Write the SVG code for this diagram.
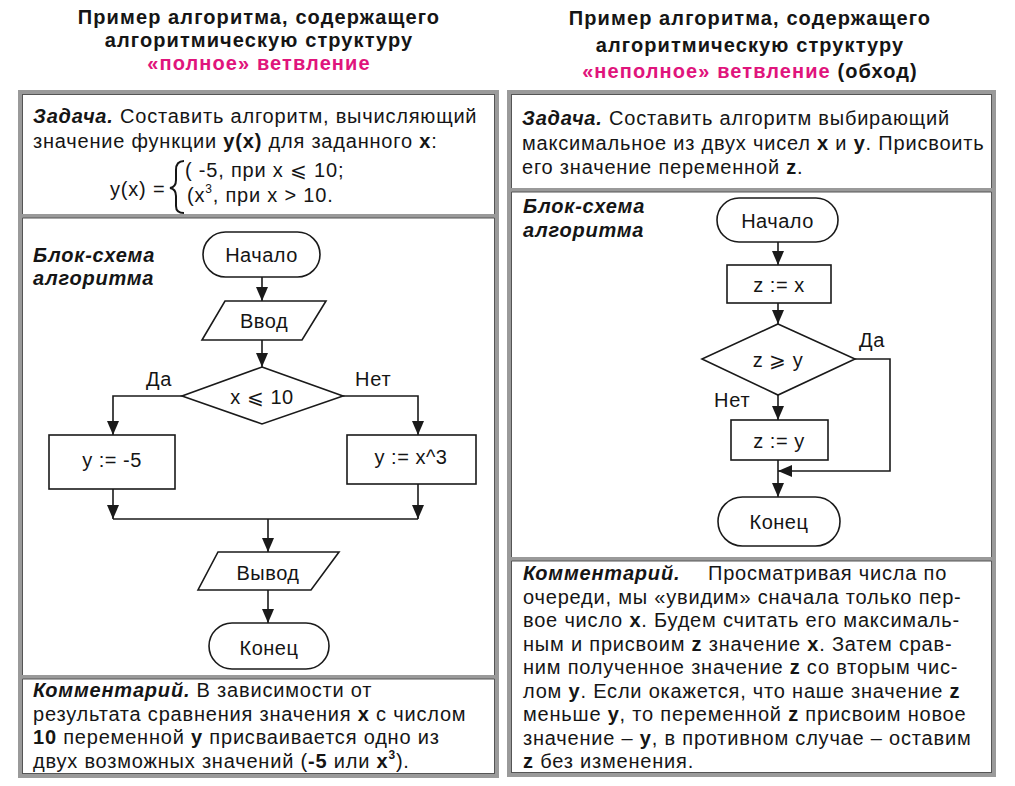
<svg xmlns="http://www.w3.org/2000/svg" width="1015" height="786" viewBox="0 0 1015 786">
<style>
text{font-family:"Liberation Sans",Arial,sans-serif;fill:#151515}
.t{font-size:20px;font-weight:bold;text-anchor:middle;letter-spacing:1.1px}
.pink{fill:#e0147c}
.b{font-size:20px;letter-spacing:0.8px}
.n{font-size:20px;text-anchor:middle;letter-spacing:0.5px}
.bi{font-weight:bold;font-style:italic}
.bo{font-weight:bold}
.frame{fill:none;stroke:#9a9a9a;stroke-width:4}
.fin{fill:none;stroke:#555;stroke-width:1}
.sh{fill:#fff;stroke:#1a1a1a;stroke-width:1.6}
.c{fill:none;stroke:#1a1a1a;stroke-width:1.6}
</style>
<defs>
<marker id="ar" viewBox="0 0 14 12" refX="14" refY="6" markerWidth="14" markerHeight="12" markerUnits="userSpaceOnUse" orient="auto">
<path d="M0,0 L14,6 L0,12 z" fill="#1a1a1a"/>
</marker>
</defs>
<rect width="1015" height="786" fill="#fff"/>

<g id="titles">
<text class="t" x="259" y="24">Пример алгоритма, содержащего</text>
<text class="t" x="259" y="47">алгоритмическую структуру</text>
<text class="t pink" x="259" y="70">«полное» ветвление</text>
<text class="t" x="750" y="25">Пример алгоритма, содержащего</text>
<text class="t" x="750" y="52">алгоритмическую структуру</text>
<text class="t" x="750" y="78"><tspan class="pink">«неполное» ветвление</tspan> (обход)</text>
</g>

<g id="frames">
<rect class="frame" x="20" y="92" width="477" height="684"/>
<rect class="fin" x="22.5" y="94.5" width="472" height="679"/>
<line class="frame" x1="20" y1="216" x2="497" y2="216"/>
<line class="fin" x1="22.5" y1="218" x2="494.5" y2="218"/>
<line class="frame" x1="20" y1="677" x2="497" y2="677"/>
<line class="fin" x1="22.5" y1="679" x2="494.5" y2="679"/>
<rect class="frame" x="509" y="92" width="485" height="683"/>
<rect class="fin" x="511.5" y="94.5" width="480" height="678"/>
<line class="frame" x1="509" y1="190" x2="994" y2="190"/>
<line class="fin" x1="511.5" y1="192" x2="991.5" y2="192"/>
<line class="frame" x1="509" y1="559" x2="994" y2="559"/>
<line class="fin" x1="511.5" y1="561" x2="991.5" y2="561"/>
</g>

<g id="left-task">
<text class="b" x="33" y="123"><tspan class="bi">Задача.</tspan> Составить алгоритм, вычисляющий</text>
<text class="b" x="33" y="148">значение функции <tspan class="bo">y(x)</tspan> для заданного <tspan class="bo">x</tspan>:</text>
<text class="b" x="110" y="196">y(x) =</text>
<path d="M184,161 Q176,161 176,170 L176,180 Q176,187 170,188 Q176,189 176,196 L176,206 Q176,213 184,213" fill="none" stroke="#151515" stroke-width="2"/>
<text class="b" x="185" y="177">( -5, при x ⩽ 10;</text>
<text class="b" x="187" y="202">(x<tspan font-size="12" dy="-9">3</tspan><tspan dy="9">, при x &gt; 10.</tspan></text>
</g>

<g id="left-label">
<text class="b bi" x="33" y="262">Блок-схема</text>
<text class="b bi" x="33" y="285">алгоритма</text>
</g>

<g id="connectors-left">
<line class="c" x1="262" y1="277" x2="262" y2="301" marker-end="url(#ar)"/>
<line class="c" x1="262" y1="340" x2="262" y2="367" marker-end="url(#ar)"/>
<polyline class="c" points="182,396 113,396 113,435" marker-end="url(#ar)"/>
<polyline class="c" points="343,396 418,396 418,435" marker-end="url(#ar)"/>
<line class="c" x1="113" y1="489" x2="113" y2="519" marker-end="url(#ar)"/>
<line class="c" x1="418" y1="484" x2="418" y2="519" marker-end="url(#ar)"/>
<line class="c" x1="113" y1="519" x2="418" y2="519"/>
<line class="c" x1="268" y1="519" x2="268" y2="552" marker-end="url(#ar)"/>
<line class="c" x1="268" y1="590" x2="268" y2="623" marker-end="url(#ar)"/>
</g>

<g id="l-start">
<rect class="sh" x="203" y="232" width="117" height="45" rx="22.5"/>
<text class="n" x="261.5" y="262">Начало</text>
</g>
<g id="l-input">
<polygon class="sh" points="225,301 326,301 302,340 202,340"/>
<text class="n" x="264" y="328">Ввод</text>
</g>
<g id="l-cond">
<polygon class="sh" points="262,367 343,396 262,424 182,396"/>
<text class="n" x="262" y="404">x ⩽ 10</text>
<text class="b" x="146" y="386">Да</text>
<text class="b" x="355" y="386">Нет</text>
</g>
<g id="l-yes">
<rect class="sh" x="49" y="435" width="126" height="54"/>
<text class="n" x="112" y="467">y := -5</text>
</g>
<g id="l-no">
<rect class="sh" x="347" y="435" width="129" height="49"/>
<text class="n" x="411" y="464">y := x^3</text>
</g>
<g id="l-output">
<polygon class="sh" points="218,552 339,552 311,590 198,590"/>
<text class="n" x="268" y="580">Вывод</text>
</g>
<g id="l-end">
<rect class="sh" x="209" y="623" width="120" height="46" rx="23"/>
<text class="n" x="269" y="655">Конец</text>
</g>

<g id="left-comment">
<text class="b" x="33" y="697"><tspan class="bi">Комментарий.</tspan> В зависимости от</text>
<text class="b" x="33" y="720.5">результата сравнения значения <tspan class="bo">x</tspan> с числом</text>
<text class="b" x="33" y="744"><tspan class="bo">10</tspan> переменной <tspan class="bo">y</tspan> присваивается одно из</text>
<text class="b" x="33" y="767.5">двух возможных значений (<tspan class="bo">-5</tspan> или <tspan class="bo">x</tspan><tspan class="bo" font-size="12" dy="-9">3</tspan><tspan dy="9">).</tspan></text>
</g>

<g id="right-task">
<text class="b" x="522" y="125"><tspan class="bi">Задача.</tspan> Составить алгоритм выбирающий</text>
<text class="b" x="522" y="150">максимальное из двух чисел <tspan class="bo">x</tspan> и <tspan class="bo">y</tspan>. Присвоить</text>
<text class="b" x="522" y="174">его значение переменной <tspan class="bo">z</tspan>.</text>
</g>

<g id="right-label">
<text class="b bi" x="523" y="213">Блок-схема</text>
<text class="b bi" x="523" y="237">алгоритма</text>
</g>

<g id="connectors-right">
<line class="c" x1="778" y1="242" x2="778" y2="265" marker-end="url(#ar)"/>
<line class="c" x1="778" y1="303" x2="778" y2="324" marker-end="url(#ar)"/>
<line class="c" x1="778" y1="395" x2="778" y2="420" marker-end="url(#ar)"/>
<polyline class="c" points="855,359 890,359 890,471 778,471" marker-end="url(#ar)"/>
<line class="c" x1="778" y1="460" x2="778" y2="497" marker-end="url(#ar)"/>
</g>

<g id="r-start">
<rect class="sh" x="717" y="198" width="121" height="44" rx="22"/>
<text class="n" x="777.5" y="228">Начало</text>
</g>
<g id="r-assign1">
<rect class="sh" x="727" y="265" width="104" height="38"/>
<text class="n" x="779" y="292">z := x</text>
</g>
<g id="r-cond">
<polygon class="sh" points="778,324 855,359 778,395 702,359"/>
<text class="n" x="778" y="367">z ⩾ y</text>
<text class="b" x="859" y="347">Да</text>
<text class="b" x="714" y="407">Нет</text>
</g>
<g id="r-assign2">
<rect class="sh" x="731" y="420" width="97" height="40"/>
<text class="n" x="779" y="448">z := y</text>
</g>
<g id="r-end">
<rect class="sh" x="718" y="497" width="122" height="49" rx="24.5"/>
<text class="n" x="779" y="529">Конец</text>
</g>

<g id="right-comment">
<text class="b" x="523" y="580"><tspan class="bi">Комментарий.</tspan><tspan x="708">Просматривая числа по</tspan></text>
<text class="b" x="523" y="603.5">очереди, мы «увидим» сначала только пер-</text>
<text class="b" x="523" y="627">вое число <tspan class="bo">x</tspan>.  Будем считать его максималь-</text>
<text class="b" x="523" y="650.5">ным и присвоим <tspan class="bo">z</tspan> значение <tspan class="bo">x</tspan>. Затем срав-</text>
<text class="b" x="523" y="674">ним полученное значение <tspan class="bo">z</tspan> со вторым чис-</text>
<text class="b" x="523" y="697.5">лом <tspan class="bo">y</tspan>. Если окажется, что наше значение <tspan class="bo">z</tspan></text>
<text class="b" x="523" y="721">меньше <tspan class="bo">y</tspan>, то переменной <tspan class="bo">z</tspan> присвоим новое</text>
<text class="b" x="523" y="744.5">значение – <tspan class="bo">y</tspan>, в противном случае – оставим</text>
<text class="b" x="523" y="768"><tspan class="bo">z</tspan> без изменения.</text>
</g>
</svg>
